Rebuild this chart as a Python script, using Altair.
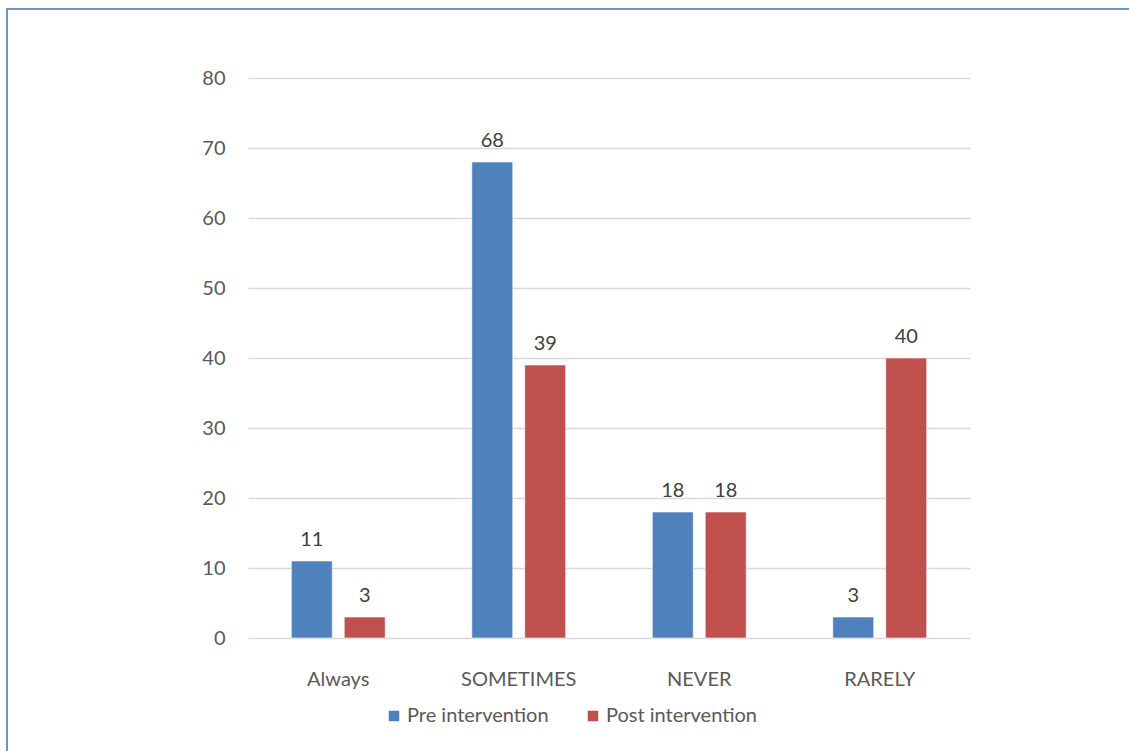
import altair as alt
import pandas as pd

categories = ["Always", "SOMETIMES", "NEVER", "RARELY"]
series = ["Pre intervention", "Post intervention"]
pre_values = [11, 68, 18, 3]
post_values = [3, 39, 18, 40]
y_ticks = [0, 10, 20, 30, 40, 50, 60, 70, 80]
colors = ["#4f81bd", "#c0504d"]

rows = []
for c, a, b in zip(categories, pre_values, post_values):
    rows.append({"cat": c, "series": series[0], "value": a})
    rows.append({"cat": c, "series": series[1], "value": b})
df = pd.DataFrame(rows)

FONT = "Lato"
FS = 20
LEFT, TOP = 248, 78
W, H = 722, 560

x_enc = alt.X("cat:N", sort=categories, title=None,
              scale=alt.Scale(paddingInner=0, paddingOuter=0),
              axis=alt.Axis(labelAngle=0, ticks=False, domain=False, grid=False,
                            labelPadding=31,
                            labelFont=FONT, labelFontSize=FS, labelColor="#595959",
                            labelBaseline="top"))
xo_enc = alt.XOffset("series:N", sort=series,
                     scale=alt.Scale(paddingInner=0.2264, paddingOuter=0.818))
y_enc = alt.Y("value:Q", title=None,
              scale=alt.Scale(domain=[0, 80], nice=False),
              axis=alt.Axis(values=y_ticks, ticks=False, domain=False, labelPadding=23,
                            labelFont=FONT, labelFontSize=FS, labelColor="#595959",
                            gridColor="#d9d9d9", gridWidth=1.3))

bars = alt.Chart(df).mark_bar(stroke="white", strokeWidth=0.6).encode(
    x=x_enc, xOffset=xo_enc, y=y_enc,
    color=alt.Color("series:N", sort=series,
                    scale=alt.Scale(domain=series, range=colors),
                    legend=alt.Legend(title=None, orient="none", direction="horizontal",
                                      legendX=136, legendY=628,
                                      symbolType="square", symbolSize=110,
                                      symbolStrokeWidth=0, labelFont=FONT,
                                      labelFontSize=FS, labelColor="#595959",
                                      columnPadding=34, labelOffset=3)),
)

labels = alt.Chart(df).mark_text(dy=-15, baseline="alphabetic", font=FONT,
                                 fontSize=FS, color="#404040").encode(
    x=alt.X("cat:N", sort=categories), xOffset=alt.XOffset("series:N", sort=series),
    y="value:Q", text="value:Q",
)

frame = alt.Chart(df).mark_rect(fill=None, stroke="#6f93c8", strokeWidth=2).encode(
    x=alt.value(7 - LEFT), x2=alt.value(W + 300), y=alt.value(9 - TOP), y2=alt.value(H + 300)
)

chart = alt.layer(frame, bars, labels).properties(
    width=W, height=H,
    background="white",
    autosize=alt.AutoSizeParams(type="none"),
    padding={"left": LEFT, "top": TOP, "right": 1129 - LEFT - W, "bottom": 751 - TOP - H},
).configure_view(strokeWidth=0, stroke=None)

chart.save("out.html", embed_options={"renderer": "svg", "actions": False})
